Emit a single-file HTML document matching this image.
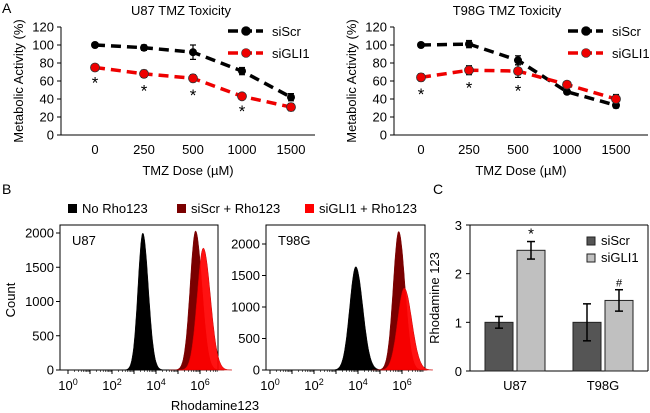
<!DOCTYPE html>
<html><head><meta charset="utf-8"><style>
body{margin:0;background:#fff}
svg{display:block;font-family:"Liberation Sans",Arial,sans-serif}
</style></head><body>
<svg id="fig" width="650" height="413" viewBox="0 0 650 413"></svg>
<script>
const doses=["0","250","500","1000","1500"];
const yTicksA=[0,20,40,60,80,100,120];
const u87Scr=[100,97,92,71,42], u87ScrErr=[1,3,8,4,4];
const u87Gli=[75,68,63,43,31], u87GliErr=[2,4,4,2,4];
const u87Star=[1,1,1,1,0];
const t98Scr=[100,101,83,48,33], t98ScrErr=[1,4,5,2,3];
const t98Gli=[64,72,71,56,40], t98GliErr=[4,5,7,3,5];
const t98Star=[1,1,1,0,0];
// histograms: [peakLogX, height, sigma]
const histU87Peaks=[3.4,5.8,6.15], histU87Heights=[2000,2030,1780], histU87Sigma=[0.22,0.25,0.28];
const histT98Peaks=[3.9,5.85,6.1], histT98Heights=[1640,2200,1300], histT98Sigma=[0.28,0.25,0.3];
const histYTicks=[0,500,1000,1500,2000];
const histXTicks=[0,2,4,6];
const barGroups=["U87","T98G"];
const barScr=[1.0,1.0], barScrErr=[0.12,0.38];
const barGli=[2.48,1.45], barGliErr=[0.18,0.22];
const barMarks=["*","#"];
const barYTicks=[0,1,2,3];

const S=document.getElementById('fig');const NS='http://www.w3.org/2000/svg';
function el(t,a,txt){const e=document.createElementNS(NS,t);for(const k in a)e.setAttribute(k,a[k]);if(txt!=null)e.textContent=txt;S.appendChild(e);return e;}

function lineChart(o){
  const y=v=>135-v*(108/120);
  const x=i=>o.cx[i];
  let t=el('text',{x:o.tx,y:15,'text-anchor':'middle','font-size':13},o.title);
  
  let ax=el('line',{x1:o.ax,y1:y(120),x2:o.ax,y2:135,stroke:'#000'});
  
  let xa=el('line',{x1:o.ax,y1:135,x2:o.ax+254,y2:135,stroke:'#000'});
  
  yTicksA.forEach(v=>{el('line',{x1:o.ax-4,y1:y(v),x2:o.ax,y2:y(v),stroke:'#000'});
    let l=el('text',{x:o.ax-7,y:y(v)+4.5,'text-anchor':'end','font-size':13},v);
    });
  doses.forEach((d,i)=>{let l=el('text',{x:x(i),y:154,'text-anchor':'middle','font-size':13},d);
    });
  let xt=el('text',{x:o.ax+127,y:175,'text-anchor':'middle','font-size':13},'TMZ Dose (µM)');
  
  let yt=el('text',{transform:`translate(${o.ax-38},81) rotate(-90)`,'text-anchor':'middle','font-size':13},'Metabolic Activity (%)');
  
  [[o.scr,o.scrE,'#000','siScr'],[o.gli,o.gliE,'#e00','siGLI1']].forEach(([vals,err,c,name])=>{
    let p=el('polyline',{points:vals.map((v,i)=>x(i)+','+y(v)).join(' '),fill:'none',stroke:c,'stroke-width':3.5,'stroke-dasharray':'10,6'});
    
    vals.forEach((v,i)=>{
      el('line',{x1:x(i),y1:y(v-err[i]),x2:x(i),y2:y(v+err[i]),stroke:'#000','stroke-width':1.2});
      el('line',{x1:x(i)-3,y1:y(v-err[i]),x2:x(i)+3,y2:y(v-err[i]),stroke:'#000','stroke-width':1.2});
      el('line',{x1:x(i)-3,y1:y(v+err[i]),x2:x(i)+3,y2:y(v+err[i]),stroke:'#000','stroke-width':1.2});
      let m=el('circle',{cx:x(i),cy:y(v),r:name=='siScr'?4:4.5,fill:c,stroke:name=='siScr'?'none':'#333','stroke-width':0.8});
      
    });
  });
  o.star.forEach((s,i)=>{if(s){let st=el('text',{x:x(i),y:y(o.gli[i]-o.gliE[i])+19,'text-anchor':'middle','font-size':17},'*');
    }});
  [['siScr','#000',31,'#000'],['siGLI1','#e00',53,'#333']].forEach(([n,c,yy,sc])=>{
    let g=el('line',{x1:o.lx,y1:yy,x2:o.lx+35,y2:yy,stroke:c,'stroke-width':3.5,'stroke-dasharray':'10,4'});
    
    el('circle',{cx:o.lx+18,cy:yy,r:4.5,fill:c,stroke:sc,'stroke-width':0.6});
    let l=el('text',{x:o.lx+44,y:yy+5,'font-size':13},n);
    
  });
}
el('text',{x:2,y:13,'font-size':14},'A');
lineChart({key:'u87',title:'U87 TMZ Toxicity',tx:181,ax:61,cx:[95,144,193,242,291],scr:u87Scr,scrE:u87ScrErr,gli:u87Gli,gliE:u87GliErr,star:u87Star,lx:228});
lineChart({key:'t98g',title:'T98G TMZ Toxicity',tx:507,ax:394,cx:[421,469,518,567,616],scr:t98Scr,scrE:t98ScrErr,gli:t98Gli,gliE:t98GliErr,star:t98Star,lx:568});

// Panel B
el('text',{x:2,y:194,'font-size':14},'B');
[['No Rho123','#000',68],['siScr + Rho123','#7a0000',177],['siGLI1 + Rho123','#ff0000',305]].forEach(([n,c,lx])=>{
  let r=el('rect',{x:lx,y:204,width:9,height:9,fill:c});
  let t=el('text',{x:lx+14,y:213,'font-size':13},n);
});
function hist(o){
  const y=v=>370-v*o.ys; const x=d=>o.x0+d*22;
  const fr=el('rect',{x:o.fl,y:225,width:o.fr-o.fl,height:145,fill:'none',stroke:'#000'});
  
  const colors=['#000','#7a0000','rgba(255,0,0,0.93)'];
  o.peaks.forEach((pk,k)=>{
    let pts=[];
    for(let d=pk-1.2;d<=pk+1.3;d+=0.03){const s=o.sig[k]*(d>pk?1.15:1);pts.push(x(d).toFixed(1)+','+y(o.h[k]*Math.exp(-0.5*((d-pk)/s)**2)).toFixed(1));}
    let p=el('polygon',{points:x(pk-1.2)+','+y(0)+' '+pts.join(' ')+' '+x(pk+1.3)+','+y(0),fill:colors[k],stroke:k==2?'#c00':colors[k],'stroke-width':0.5});
    
  });
  histYTicks.forEach(v=>{el('line',{x1:o.fl-4,y1:y(v),x2:o.fl,y2:y(v),stroke:'#000'});
    let l=el('text',{x:o.fl-6,y:y(v)+4.5,'text-anchor':'end','font-size':13},v);});
  for(let d=0;d<=6.6;d+=1){el('line',{x1:x(d),y1:370,x2:x(d),y2:374,stroke:'#000'});
    for(let m=2;m<10;m++){const xx=x(d+Math.log10(m));if(xx<o.fr)el('line',{x1:xx,y1:370,x2:xx,y2:372,stroke:'#000','stroke-width':0.6});}}
  histXTicks.forEach(d=>{let t=el('text',{x:x(d),y:390,'text-anchor':'middle','font-size':13});t.innerHTML='10<tspan dy="-5" font-size="9">'+d+'</tspan>';
    });
  let lb=el('text',{x:o.fl+12,y:245,'font-size':13},o.label);
}
hist({key:'u87',fl:60,fr:218,x0:68,ys:137/2000,peaks:histU87Peaks,h:histU87Heights,sig:histU87Sigma,label:'U87'});
hist({key:'t98g',fl:266,fr:425,x0:270,ys:126/2000,peaks:histT98Peaks,h:histT98Heights,sig:histT98Sigma,label:'T98G'});
let yc=el('text',{transform:'translate(15,300) rotate(-90)','text-anchor':'middle','font-size':13},'Count');
let xr=el('text',{x:215,y:410,'text-anchor':'middle','font-size':13},'Rhodamine123');

// Panel C
el('text',{x:433,y:194,'font-size':14},'C');
(function(){
  const y=v=>371-v*(146/3);
  const gx=[485,573];
  el('line',{x1:470,y1:225,x2:648,y2:225,stroke:'#000'});
  el('line',{x1:648,y1:225,x2:648,y2:371,stroke:'#000'});
  let ya=el('line',{x1:470,y1:225,x2:470,y2:371,stroke:'#000'});
  let xa=el('line',{x1:470,y1:371,x2:648,y2:371,stroke:'#000'});
  barYTicks.forEach(v=>{el('line',{x1:466,y1:y(v),x2:470,y2:y(v),stroke:'#000'});
    let l=el('text',{x:462,y:y(v)+5,'text-anchor':'end','font-size':13},v);});
  barGroups.forEach((g,i)=>{
    [[barScr,barScrErr,'#555',0],[barGli,barGliErr,'#c0c0c0',1]].forEach(([vals,err,c,k])=>{
      const bx=gx[i]+k*32, w=28, v=vals[i], cx=bx+w/2;
      let r=el('rect',{x:bx,y:y(v),width:w,height:y(0)-y(v),fill:c,stroke:'#222'});
      
      el('line',{x1:cx,y1:y(v-err[i]),x2:cx,y2:y(v+err[i]),stroke:'#000','stroke-width':1.5});
      el('line',{x1:cx-4,y1:y(v-err[i]),x2:cx+4,y2:y(v-err[i]),stroke:'#000','stroke-width':1.5});
      el('line',{x1:cx-4,y1:y(v+err[i]),x2:cx+4,y2:y(v+err[i]),stroke:'#000','stroke-width':1.5});
      if(k){let m=el('text',{x:cx,y:y(v+err[i])-3,'text-anchor':'middle','font-size':barMarks[i]=='*'?15:11},barMarks[i]);}
    });
    let l=el('text',{x:gx[i]+30,y:390,'text-anchor':'middle','font-size':13},g);
  });
  [['siScr','#555',237],['siGLI1','#c0c0c0',254]].forEach(([n,c,yy])=>{
    let r=el('rect',{x:587,y:yy,width:8,height:8,fill:c,stroke:'#222'});
    let t=el('text',{x:601,y:yy+8,'font-size':13},n);
  });
  let yt=el('text',{transform:'translate(439,298) rotate(-90)','text-anchor':'middle','font-size':13},'Rhodamine 123');
})();
</script>
</body></html>
